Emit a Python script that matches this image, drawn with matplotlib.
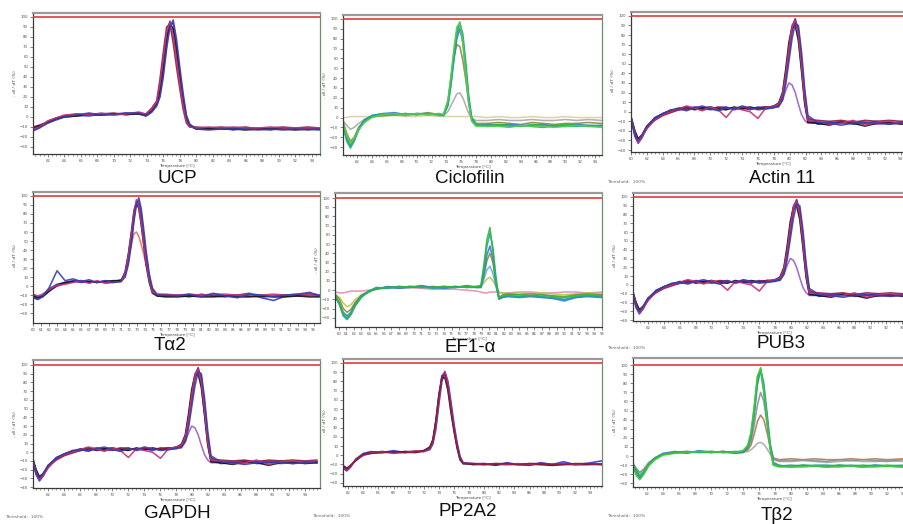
"""
Melt-curve panel grid (-dI/dT vs temperature) for nine reference genes.
Values were read by eye off the original screenshot.
"""

import matplotlib

matplotlib.use("Agg")
import matplotlib.pyplot as plt
from matplotlib.ticker import MultipleLocator

FIG_W, FIG_H = 904, 524
TITLE_FONT = "Liberation Sans"

# ---------------------------------------------------------------- data
# UCP
T_UCP = [60.2, 61, 62, 63, 64, 65.5, 67, 68.5, 70, 71.5, 73,
         73.9, 74.6, 75.2, 75.6, 76.0, 76.4, 76.8, 77.2, 77.6, 78.0, 78.4, 78.8, 79.2,
         80, 81.5, 83, 84.5, 86, 87.5, 89, 90.5, 92, 93.5, 95]
UCP_CURVES = [
    [-12, -9, -5, -2, 0, 1, 2, 2, 3, 3, 4,
     2, 7, 14, 30, 55, 82, 96, 85, 62, 38, 14, -3, -9,
     -11, -11, -12, -11, -12, -11, -12, -11, -12, -11, -12],
    [-13, -10, -4, -1, 1, 2, 1, 3, 2, 4, 3,
     1, 5, 12, 22, 45, 72, 92, 94, 72, 45, 20, 0, -8,
     -12, -12, -11, -13, -11, -12, -13, -11, -12, -12, -13],
    [-10, -8, -5, -1, 1, 3, 2, 3, 4, 2, 4,
     3, 9, 16, 38, 65, 90, 93, 74, 50, 28, 8, -6, -10,
     -10, -11, -10, -11, -10, -12, -11, -10, -11, -10, -11],
    [-11, -9, -6, -2, 0, 1, 3, 2, 3, 3, 3,
     2, 6, 13, 27, 50, 78, 94, 88, 66, 40, 16, -2, -9,
     -12, -12, -12, -12, -13, -12, -12, -12, -13, -12, -12],
    [-12, -10, -4, -1, 2, 3, 2, 4, 2, 3, 5,
     3, 8, 15, 33, 58, 85, 95, 82, 58, 34, 12, -4, -10,
     -11, -10, -11, -10, -11, -11, -10, -11, -11, -11, -11],
    [-14, -11, -6, -3, 0, 2, 4, 2, 3, 4, 4,
     1, 5, 11, 20, 40, 68, 90, 97, 78, 50, 24, 2, -7,
     -12, -13, -12, -12, -12, -13, -12, -13, -12, -13, -12],
]
UCP_COLORS = ["#7a3c9c", "#2f35c8", "#8c1d3f", "#151515", "#c0357a", "#3b3fa8"]

# Ciclofilin
T_CICLO = [60.1, 60.6, 61.1, 61.6, 62.2, 63, 64, 65.5, 67, 68.5, 70, 71.5, 73,
           73.6, 74.2, 74.6, 75.0, 75.4, 75.8, 76.2, 76.6, 77.0, 77.4, 78,
           79.5, 81, 82.5, 84, 85.5, 87, 88.5, 90, 91.5, 93, 94.9]
CICLO_CURVES = [
    [0, 0, 1, 1, 1, 1, 1, 1, 2, 1, 1, 2, 1,
     1, 1, 1, 1, 1, 1, 1, 1, 1, 1, 1,
     0, 1, 0, 0, 1, 0, 0, 1, 0, 0, 0],
    [-3, -8, -12, -10, -6, -2, 1, 2, 3, 2, 3, 3, 2,
     2, 6, 12, 18, 24, 25, 20, 12, 4, -1, -3,
     -3, -2, -3, -3, -2, -3, -3, -2, -3, -2, -3],
    [-4, -16, -24, -20, -10, -3, 1, 2, 3, 4, 3, 5, 3,
     3, 16, 40, 62, 74, 72, 58, 38, 14, -1, -6,
     -6, -5, -6, -7, -5, -6, -7, -6, -6, -5, -6],
    [-7, -22, -29, -23, -11, -2, 2, 4, 5, 3, 4, 4, 3,
     2, 13, 34, 58, 80, 90, 76, 48, 16, -3, -8,
     -7, -8, -7, -8, -8, -7, -9, -8, -7, -8, -8],
    [-8, -24, -31, -24, -13, -3, 2, 4, 3, 3, 4, 3, 4,
     2, 12, 32, 60, 84, 95, 85, 56, 22, 0, -7,
     -9, -8, -9, -8, -9, -10, -8, -9, -9, -8, -9],
    [-6, -20, -28, -22, -12, -4, 1, 3, 3, 4, 3, 4, 3,
     3, 15, 38, 65, 88, 97, 80, 50, 18, -2, -8,
     -8, -7, -8, -9, -7, -8, -8, -7, -8, -9, -8],
    [-5, -18, -26, -21, -12, -5, 0, 3, 4, 3, 4, 3, 4,
     3, 18, 42, 70, 92, 96, 76, 44, 14, -4, -9,
     -9, -9, -10, -8, -9, -9, -10, -9, -8, -9, -10],
]
CICLO_COLORS = ["#d8cfa8", "#a8a8a8", "#8f8a3c", "#3a78d0", "#1fa3a3", "#2fb83a", "#58c95a"]

# Actin 11 (PUB3 and GAPDH show the same traces in the source figure)
T_ACTIN = [60, 60.5, 60.9, 61.4, 62, 63, 64, 65, 66, 67, 68, 69, 70, 71, 72, 73, 74, 75, 76, 77, 78,
           78.6, 79.1, 79.5, 79.9, 80.3, 80.7, 81.1, 81.5, 81.9, 82.3,
           83.5, 85, 86.5, 88, 89.5, 91, 92.5, 94, 95.5]
ACTIN_CURVES = [
    [-6, -22, -30, -25, -16, -8, -3, 0, 2, 3, 4, 3, 4, 2, 3, 4, 3, 4, 4, 5, 5,
     6, 12, 22, 30, 28, 20, 8, -3, -9, -12,
     -12, -13, -12, -11, -12, -13, -12, -11, -12],
    [-6, -22, -30, -25, -17, -8, -3, 0, 2, 3, 4, 3, 4, 2, 3, 4, 3, 4, 4, 5, 5,
     8, 18, 40, 68, 90, 96, 78, 45, 10, -10,
     -11, -11, -12, -10, -11, -12, -11, -12, -11],
    [-8, -26, -33, -27, -16, -6, -2, 1, 4, 2, 5, 4, 2, 4, 5, 2, 4, 2, 5, 3, 4,
     6, 14, 34, 60, 84, 94, 86, 55, 18, -6,
     -13, -12, -10, -13, -12, -10, -13, -11, -12],
    [-5, -20, -28, -24, -15, -7, -2, 1, 3, 5, 2, 4, 5, 3, 2, 5, 3, 5, 3, 4, 6,
     9, 20, 44, 72, 88, 90, 74, 42, 8, -11,
     -12, -14, -11, -12, -15, -12, -11, -13, -12],
    [-7, -24, -31, -26, -16, -9, -4, -1, 2, 4, 3, 2, 3, 5, 4, 3, 5, 3, 4, 5, 5,
     7, 16, 36, 62, 86, 97, 84, 52, 14, -8,
     -9, -10, -9, -11, -9, -10, -9, -10, -9],
    [-6, -23, -32, -26, -18, -8, -3, 0, 3, 6, 4, 1, 5, 2, -6, 4, 2, 0, -7, 4, 6,
     8, 18, 38, 66, 88, 95, 80, 48, 12, -9,
     -10, -13, -12, -9, -14, -11, -10, -12, -10],
    [-7, -25, -30, -24, -15, -7, -2, 2, 3, 1, 4, 6, 3, 1, 4, 3, 6, 4, 2, 3, 5,
     5, 12, 28, 52, 76, 92, 90, 62, 24, -4,
     -11, -12, -14, -12, -11, -12, -13, -12, -11],
]
ACTIN_COLORS = ["#9a5fc0", "#7a3c9c", "#2f35c8", "#151515", "#8c1d3f", "#c0357a", "#3b3fa8"]

# Talpha2
T_TA2 = [60, 60.6, 61.2, 62, 63, 64, 65, 66, 67, 68, 69, 70, 71,
         71.5, 71.9, 72.3, 72.6, 72.9, 73.2, 73.5, 73.8, 74.1, 74.5, 74.9, 75.5,
         76.5, 78, 79.5, 81, 82.5, 84, 85.5, 87, 88.5, 90, 91.5, 93, 94.5, 95.8]
TA2_CURVES = [
    [-10, -12, -11, -5, 0, 3, 5, 5, 4, 5, 4, 5, 6,
     14, 30, 48, 58, 60, 55, 46, 36, 24, 10, -2, -9,
     -10, -11, -10, -11, -10, -11, -10, -11, -12, -11, -10, -11, -10, -11],
    [-10, -12, -11, -5, 0, 3, 5, 5, 4, 5, 4, 5, 6,
     14, 32, 58, 80, 94, 90, 74, 52, 30, 8, -6, -10,
     -10, -11, -10, -11, -10, -11, -10, -11, -12, -11, -10, -11, -10, -11],
    [-12, -14, -10, -3, 2, 4, 6, 4, 5, 4, 6, 5, 7,
     12, 28, 52, 76, 92, 94, 80, 58, 34, 10, -5, -11,
     -11, -10, -12, -9, -11, -12, -10, -8, -13, -16, -11, -10, -8, -10],
    [-11, -13, -12, -6, 1, 4, 5, 6, 5, 4, 5, 6, 6,
     16, 36, 62, 84, 92, 86, 68, 46, 24, 4, -8, -11,
     -12, -12, -11, -12, -12, -11, -12, -12, -11, -12, -12, -11, -12, -12],
    [-9, -11, -9, -4, 1, 2, 4, 6, 3, 6, 3, 4, 5,
     15, 34, 60, 82, 96, 88, 70, 48, 26, 6, -7, -9,
     -9, -10, -9, -10, -9, -9, -10, -9, -10, -9, -10, -9, -9, -10],
    [-13, -15, -12, -2, 17, 6, 8, 5, 7, 4, 6, 4, 5,
     10, 24, 48, 72, 90, 98, 86, 64, 40, 14, -3, -10,
     -10, -11, -9, -12, -8, -11, -13, -9, -10, -12, -10, -9, -7, -11],
]
TA2_COLORS = ["#e07070", "#7a3c9c", "#2f35c8", "#151515", "#c0357a", "#3b3fa8"]

# EF1-alpha
T_EF1 = [59.5, 60.1, 60.6, 61.1, 61.6, 62.2, 63, 64, 65, 66.5, 68, 69.5, 71, 72.5, 74, 75.5, 77, 78.3,
         78.9, 79.3, 79.7, 80.1, 80.5, 80.9, 81.3,
         81.8, 82.5, 84, 85.5, 87, 88.5, 90, 91.5, 93, 95]
EF1_CURVES = [
    [-2, -3, -3, -2, -1, -1, -1, 0, 1, 2, 2, 3, 2, 1, 1, 1, 0, -1,
     -2, -3, -3, -2, -2, -2, -3,
     -3, -3, -2, -2, -3, -3, -2, -2, -3, -2],
    [-5, -8, -14, -18, -16, -10, -5, -1, 2, 3, 3, 4, 4, 3, 4, 3, 4, 3,
     3, 8, 12, 14, 10, 4, -2,
     -3, -4, -3, -4, -3, -4, -5, -4, -3, -4],
    [-6, -15, -27, -31, -26, -16, -7, -1, 2, 3, 3, 4, 3, 3, 4, 3, 4, 3,
     3, 12, 22, 26, 18, 4, -9,
     -7, -6, -7, -6, -7, -9, -12, -8, -6, -7],
    [-4, -10, -20, -24, -21, -13, -6, -2, 2, 3, 4, 3, 3, 4, 3, 4, 3, 4,
     4, 16, 32, 40, 30, 8, -8,
     -5, -4, -5, -4, -5, -6, -7, -5, -4, -5],
    [-7, -15, -24, -28, -24, -15, -6, -1, 1, 4, 2, 3, 5, 3, 2, 3, 5, 3,
     3, 18, 38, 48, 34, 8, -10,
     -8, -7, -8, -7, -8, -9, -11, -8, -7, -8],
    [-6, -16, -28, -32, -27, -17, -8, -1, 3, 2, 4, 3, 4, 2, 3, 4, 3, 3,
     4, 22, 48, 62, 46, 14, -8,
     -7, -6, -7, -6, -7, -8, -10, -7, -6, -7],
    [-5, -14, -26, -30, -26, -16, -7, -2, 2, 3, 3, 4, 3, 3, 4, 3, 4, 4,
     5, 28, 55, 68, 42, 10, -9,
     -6, -5, -5, -6, -5, -7, -8, -6, -5, -6],
]
EF1_COLORS = ["#e090b0", "#b8c850", "#5fb0e8", "#8f8a3c", "#3a78d0", "#1fa3a3", "#2fb83a"]

# PP2A2
T_PP2A2 = [61.3, 61.8, 62.3, 63, 64, 65, 66.5, 68, 69.5, 71, 72,
           72.8, 73.2, 73.6, 74.0, 74.4, 74.8, 75.2, 75.6, 76.0, 76.4, 76.8, 77.2,
           78.5, 80, 81.5, 83, 84.5, 86, 87.5, 89, 90.5, 92, 93.5, 95.6]
PP2A2_CURVES = [
    [-12, -15, -12, -5, 0, 2, 3, 3, 4, 3, 5,
     8, 15, 35, 62, 85, 88, 75, 52, 30, 12, -3, -8,
     -9, -9, -10, -9, -10, -9, -10, -10, -9, -10, -10, -9],
    [-14, -17, -13, -4, 2, 4, 3, 5, 3, 4, 4,
     6, 12, 28, 55, 80, 90, 80, 58, 34, 14, -1, -8,
     -10, -9, -11, -8, -10, -11, -8, -10, -7, -10, -9, -6],
    [-11, -14, -11, -6, 1, 3, 4, 3, 4, 4, 5,
     9, 17, 38, 66, 84, 84, 70, 46, 26, 8, -5, -9,
     -10, -10, -10, -10, -10, -10, -10, -11, -10, -10, -10, -10],
    [-13, -16, -12, -5, 0, 3, 4, 2, 3, 5, 4,
     7, 14, 32, 60, 86, 91, 78, 54, 31, 11, -4, -9,
     -9, -10, -9, -10, -9, -10, -9, -10, -9, -10, -9, -10],
    [-12, -15, -11, -5, 1, 2, 3, 4, 3, 3, 5,
     8, 16, 36, 64, 86, 87, 72, 50, 28, 10, -4, -9,
     -9, -10, -9, -9, -10, -9, -9, -10, -10, -9, -9, -10],
]
PP2A2_COLORS = ["#7a3c9c", "#2f35c8", "#151515", "#c0357a", "#8c1d3f"]

# Tbeta2
T_TB2 = [60.25, 60.7, 61.1, 61.6, 62.2, 63, 64, 65.5, 67, 68.5, 70, 71.5, 73,
         74, 74.6, 75.0, 75.4, 75.8, 76.2, 76.6, 77.0, 77.4, 77.8,
         78.5, 80, 81.5, 83, 84.5, 86, 87.5, 89, 90.5, 92, 94.1, 95.5]
TB2_CURVES = [
    [-10, -15, -18, -14, -7, -2, 2, 4, 4, 4, 5, 4, 4,
     4, 5, 7, 10, 14, 15, 13, 8, 2, -4,
     -6, -6, -5, -6, -7, -6, -5, -6, -6, -5, -6, -6],
    [-9, -18, -24, -19, -10, -3, 2, 4, 5, 4, 4, 5, 4,
     4, 7, 12, 24, 38, 45, 40, 26, 10, -2,
     -4, -3, -4, -3, -4, -4, -3, -4, -3, -4, -3, -4],
    [-8, -14, -18, -15, -8, -2, 2, 4, 4, 5, 4, 5, 4,
     5, 8, 16, 34, 56, 70, 60, 36, 12, -3,
     -5, -5, -4, -5, -6, -4, -5, -4, -5, -6, -4, -5],
    [-11, -20, -24, -19, -10, -2, 3, 5, 3, 6, 4, 5, 3,
     4, 9, 20, 44, 78, 95, 80, 48, 14, -7,
     -10, -12, -10, -11, -12, -10, -11, -12, -10, -11, -12, -11],
    [-9, -16, -21, -17, -9, -3, 2, 4, 5, 4, 5, 4, 5,
     5, 11, 24, 52, 86, 94, 70, 38, 8, -10,
     -11, -10, -11, -10, -10, -11, -10, -11, -10, -11, -10, -10],
    [-10, -18, -22, -18, -10, -3, 2, 4, 4, 5, 4, 4, 4,
     5, 10, 22, 48, 82, 97, 75, 42, 10, -9,
     -11, -11, -10, -11, -11, -10, -11, -10, -11, -10, -11, -11],
    [-12, -22, -26, -20, -11, -4, 1, 3, 4, 5, 5, 4, 4,
     6, 12, 26, 55, 88, 96, 72, 40, 8, -10,
     -12, -12, -12, -11, -12, -12, -11, -12, -12, -11, -12, -12],
]
TB2_COLORS = ["#a8a8a8", "#b07850", "#909090", "#3a78d0", "#1fa3a3", "#2fb83a", "#3fc83f"]

# panel titles and the small "Threshold" captions of the screenshot
TITLES = ["UCP", "Ciclofilin", "Actin 11", "Tα2", "EF1-α", "PUB3", "GAPDH", "PP2A2", "Tβ2"]
THRESHOLD_NOTE = "Threshold:  100%"


def px_box(x0, y0, x1, y1):
    """pixel box (top-left origin) -> figure fraction rect."""
    return [x0 / FIG_W, 1 - y1 / FIG_H, (x1 - x0) / FIG_W, (y1 - y0) / FIG_H]


def draw_panel(fig, spec):
    ax = fig.add_axes(px_box(*spec["box"]))
    for ys, color in zip(spec["curves"], spec["colors"]):
        ax.plot(spec["temps"], ys, color=color, lw=1.15, alpha=0.9, solid_joinstyle="round")
    ax.axhline(100, color="#e23a3a", lw=1.2, zorder=5)

    ax.set_xlim(*spec["xlim"])
    ax.set_ylim(*spec["ylim"])
    ax.xaxis.set_major_locator(MultipleLocator(spec["xstep"]))
    if spec["xstep"] > 1:
        ax.xaxis.set_minor_locator(MultipleLocator(0.5))
    ax.set_yticks(range(spec["ymin_tick"], 101, 10))

    ax.tick_params(axis="both", which="major", labelsize=2.8, length=2, width=0.5,
                   pad=1.5, colors="#555555")
    ax.tick_params(axis="x", which="minor", length=1.2, width=0.4, colors="#555555")
    ax.set_ylabel("- dI / dT (%)", fontsize=3.2, color="#444444", labelpad=2)
    ax.set_xlabel("Temperature [°C]", fontsize=3.0, color="#444444", labelpad=0.5)

    for side in ("left", "bottom"):
        ax.spines[side].set_color("#3a3a3a")
        ax.spines[side].set_linewidth(0.9)
    ax.spines["top"].set_color("#9a9a9a")
    ax.spines["top"].set_linewidth(1.6)
    ax.spines["right"].set_color("#6f8f70")
    ax.spines["right"].set_linewidth(0.9)
    return ax


def main():
    fig = plt.figure(figsize=(FIG_W / 100, FIG_H / 100), dpi=100)
    fig.patch.set_facecolor("white")

    panels = [
        dict(box=(33, 13, 320, 154), xlim=(60.2, 95.0), ylim=(-37, 104), xstep=2, ymin_tick=-30,
             temps=T_UCP, curves=UCP_CURVES, colors=UCP_COLORS),
        dict(box=(343, 15, 602, 155), xlim=(60.1, 94.9), ylim=(-38, 104), xstep=2, ymin_tick=-30,
             temps=T_CICLO, curves=CICLO_CURVES, colors=CICLO_COLORS),
        dict(box=(631, 12, 915, 152), xlim=(60.0, 95.8), ylim=(-42, 104), xstep=2, ymin_tick=-40,
             temps=T_ACTIN, curves=ACTIN_CURVES, colors=ACTIN_COLORS),
        dict(box=(33, 192, 320, 323), xlim=(60.0, 95.8), ylim=(-41, 104.4), xstep=1, ymin_tick=-30,
             temps=T_TA2, curves=TA2_CURVES, colors=TA2_COLORS),
        dict(box=(335, 193, 602, 327), xlim=(59.5, 95.0), ylim=(-40, 105.5), xstep=1, ymin_tick=-30,
             temps=T_EF1, curves=EF1_CURVES, colors=EF1_COLORS),
        dict(box=(633, 193, 915, 321), xlim=(60.1, 95.6), ylim=(-41, 104.5), xstep=2, ymin_tick=-40,
             temps=T_ACTIN, curves=ACTIN_CURVES, colors=ACTIN_COLORS),
        dict(box=(33, 360, 320, 488), xlim=(60.1, 95.9), ylim=(-41, 105.7), xstep=2, ymin_tick=-40,
             temps=T_ACTIN, curves=ACTIN_CURVES, colors=ACTIN_COLORS),
        dict(box=(343, 359, 602, 486), xlim=(61.3, 95.6), ylim=(-33.3, 104.3), xstep=2, ymin_tick=-30,
             temps=T_PP2A2, curves=PP2A2_CURVES, colors=PP2A2_COLORS),
        dict(box=(633, 358, 915, 487), xlim=(60.25, 95.5), ylim=(-34, 107.7), xstep=2, ymin_tick=-30,
             temps=T_TB2, curves=TB2_CURVES, colors=TB2_COLORS),
    ]
    for spec in panels:
        draw_panel(fig, spec)

    title_pos = [(177, 178), (470, 178), (782, 178),
                 (170, 345), (470, 348), (781, 344),
                 (177, 513), (468, 512), (777, 515)]
    for title, (x, y) in zip(TITLES, title_pos):
        fig.text(x / FIG_W, 1 - y / FIG_H, title, ha="center", va="center",
                 fontsize=13.5, family=TITLE_FONT, color="#111111")

    for x, y in [(607, 182), (607, 348), (5, 517), (312, 516), (607, 516)]:
        fig.text(x / FIG_W, 1 - y / FIG_H, THRESHOLD_NOTE, ha="left", va="center",
                 fontsize=3.2, color="#666666")

    fig.savefig("out.png", dpi=100, facecolor="white")
    plt.close(fig)


if __name__ == "__main__":
    main()
